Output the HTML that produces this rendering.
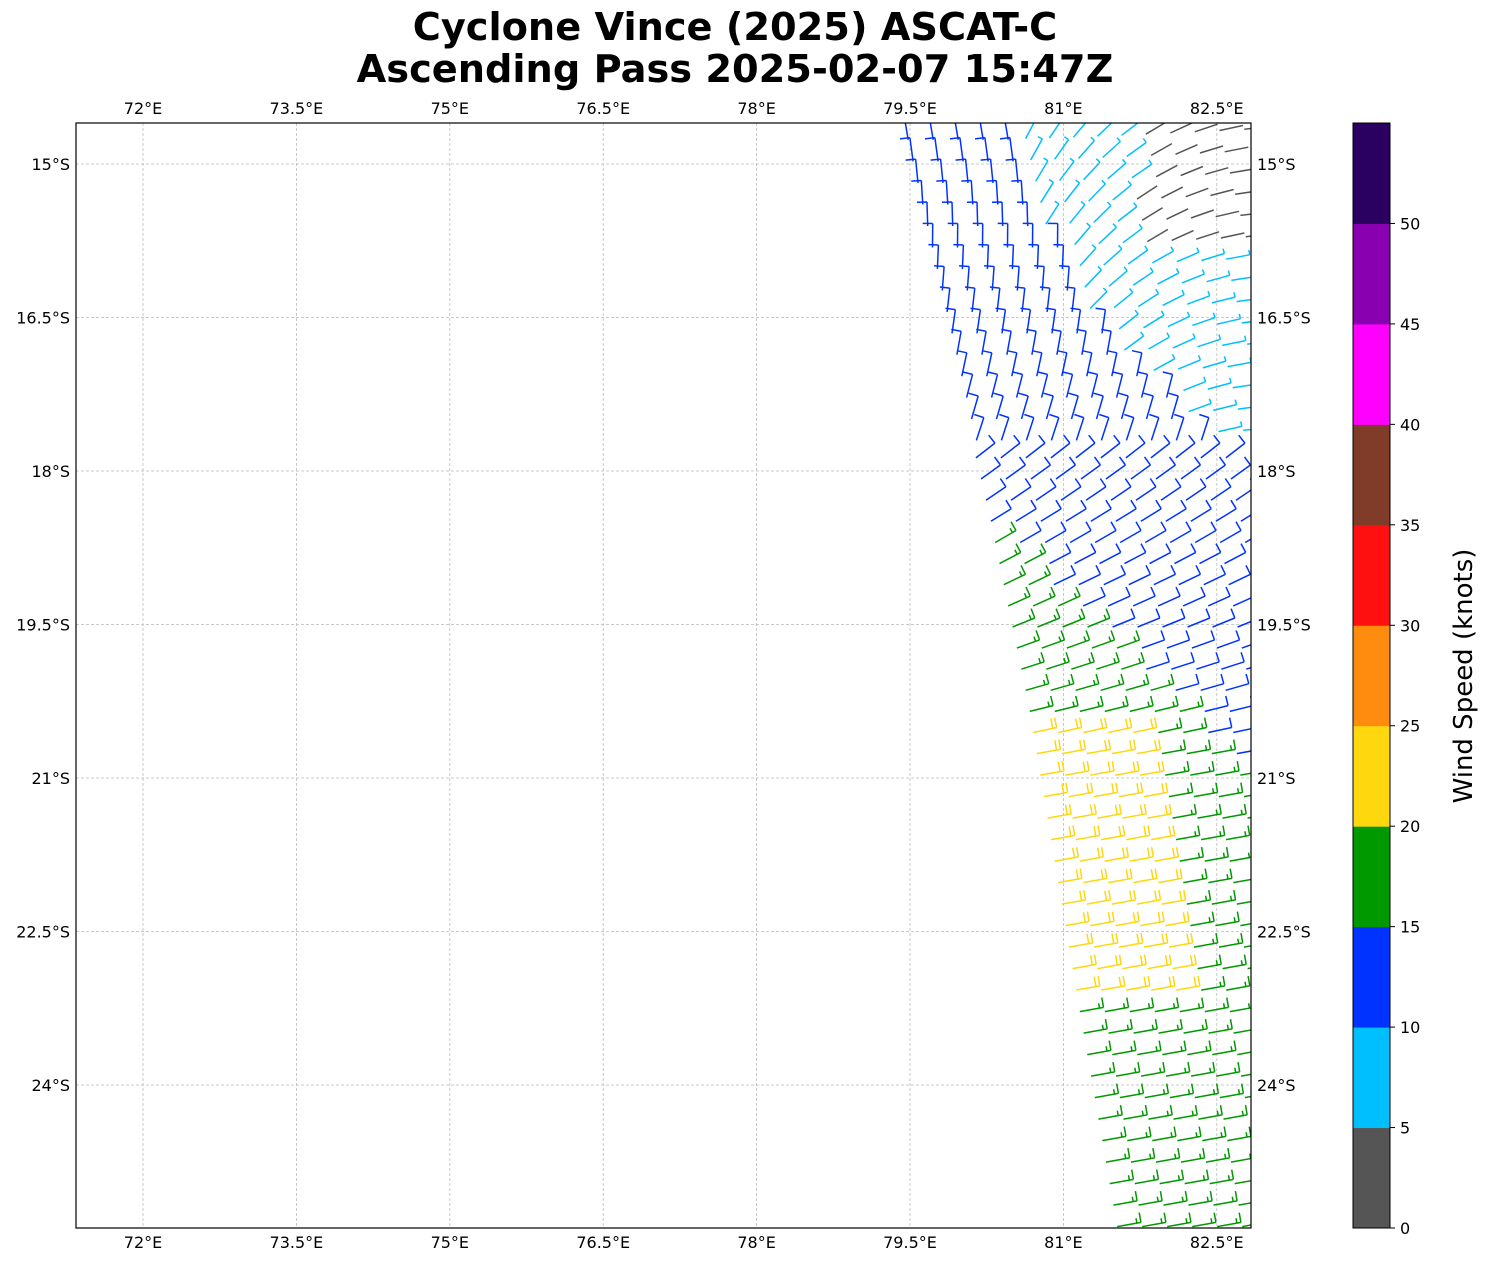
<!DOCTYPE html>
<html><head><meta charset="utf-8"><style>
body{margin:0;background:#fff;}
svg{display:block;font-family:"DejaVu Sans","Liberation Sans",sans-serif;}
</style></head><body>
<svg id="s" width="1490" height="1264" xmlns="http://www.w3.org/2000/svg">
<text x="735" y="40" font-size="38.3" font-weight="bold" text-anchor="middle">Cyclone Vince (2025) ASCAT-C</text>
<text x="735" y="82" font-size="38.3" font-weight="bold" text-anchor="middle">Ascending Pass 2025-02-07 15:47Z</text>
<defs><clipPath id="c"><rect x="76" y="123" width="1175" height="1105"/></clipPath></defs>
<g id="grid" stroke="#bbb" stroke-width="0.8" stroke-dasharray="3,2"></g>
<g id="barbs" clip-path="url(#c)" fill="none" stroke-width="1.5"></g>
<rect x="76" y="123" width="1175" height="1105" fill="none" stroke="#000" stroke-width="1.2"/>
<g id="labels" font-size="16"></g>
<g id="cb"></g>
<text transform="translate(1472,676) rotate(-90)" font-size="26" text-anchor="middle">Wind Speed (knots)</text>
</svg>
<script>
var NS="http://www.w3.org/2000/svg";
function el(p,t,a,txt){var e=document.createElementNS(NS,t);for(var k in a)e.setAttribute(k,a[k]);if(txt!=null)e.textContent=txt;p.appendChild(e);return e;}
var g=document.getElementById('grid'),L=document.getElementById('labels');
var lons=["72°E","73.5°E","75°E","76.5°E","78°E","79.5°E","81°E","82.5°E"];
for(var i=0;i<8;i++){var x=143+i*153.4;el(g,'line',{x1:x,y1:123,x2:x,y2:1228});
el(L,'text',{x:x,y:114,'text-anchor':'middle'},lons[i]);el(L,'text',{x:x,y:1248,'text-anchor':'middle'},lons[i]);}
var lats=["15°S","16.5°S","18°S","19.5°S","21°S","22.5°S","24°S"];
for(var i=0;i<7;i++){var y=164+i*153.5;el(g,'line',{x1:76,y1:y,x2:1251,y2:y});
el(L,'text',{x:70,y:y+6,'text-anchor':'end'},lats[i]);el(L,'text',{x:1257,y:y+6},lats[i]);}
var cols=["#555555","#00bfff","#0033ff","#009900","#ffd70f","#ff8c0f","#ff1010","#803c28","#ff00ff","#8800b0","#2a0060"];
var cb=document.getElementById('cb');var h=1105/11;
for(var i=0;i<11;i++){el(cb,'rect',{x:1353,y:1228-(i+1)*h,width:37,height:h+0.5,fill:cols[i]});}
el(cb,'rect',{x:1353,y:123,width:37,height:1105,fill:'none',stroke:'#000','stroke-width':1});
for(var i=0;i<=10;i++){var y=1228-i*h;el(cb,'line',{x1:1390,y1:y,x2:1395,y2:y,stroke:'#000'});el(cb,'text',{x:1400,y:y+6,'font-size':16},String(i*5));}
function left(y){var P=[[123,905],[510,1000],[700,1040],[1000,1090],[1230,1130]];
for(var i=0;i<P.length-1;i++){if(y<=P[i+1][0]){var t=(y-P[i][0])/(P[i+1][0]-P[i][0]);return P[i][1]+t*(P[i+1][1]-P[i][1]);}}return 1130;}
var B=document.getElementById('barbs');
for(var y=128;y<1230;y+=21.5){
 var lx=left(y);
 for(var x=lx;x<1260;x+=25){
  var c,n;
  var cyanB = (y<300)? 1010+(y-123)*80/177 : 1090+(y-300)*161/160;
  if(x>1145&&y<255){c=0;}
  else if(y<460&&x>cyanB){c=1;}
  else if(y>=730&&y<1000&&x<lx+115){c=4;}
  else if(y>520 && y> 520+(x-1000)*0.956){c=3;}
  else c=2;
  n=[0,0.5,1,1.5,2][c];
  var a;
  if(y<450){a=-100+(y-123)/327*30; if(c<=1) a=-70+(x-1000)*0.25;}
  else {a=-38+(y-450)/300*28; if(a>-10)a=-10;}
  var r=a*Math.PI/180,dx=Math.cos(r),dy=Math.sin(r);
  var len=24;
  var sx=x-dx*12, sy=y-dy*12;
  var ex=sx+dx*len,ey=sy+dy*len;
  var px,py;
  if(y<450){px=-dy;py=dx; if(px>0){px=-px;py=-py;}}
  else {px=dy;py=-dx; if(py>0){px=-px;py=-py;}}
  var d="M"+sx.toFixed(1)+","+sy.toFixed(1)+"L"+ex.toFixed(1)+","+ey.toFixed(1);
  var k=0,rem=n;
  while(rem>0){var tl=rem>=1?10:5;var bx=ex-dx*k*4,by=ey-dy*k*4;
   d+="M"+bx.toFixed(1)+","+by.toFixed(1)+"l"+(px*tl).toFixed(1)+","+(py*tl).toFixed(1);rem-=1;k++;}
  el(B,'path',{d:d,stroke:cols[c]});
 }
}
</script>
</body></html>
